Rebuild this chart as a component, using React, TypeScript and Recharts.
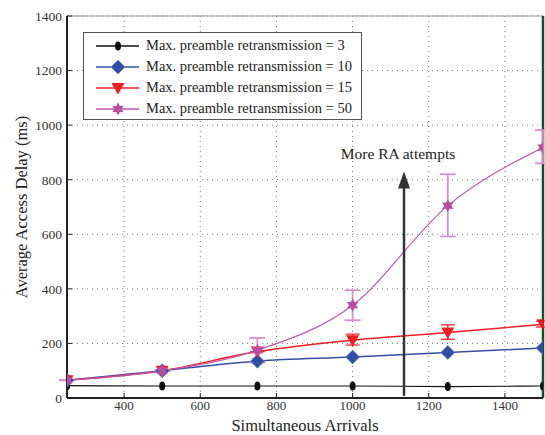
import React from 'react';
import {
  LineChart, Line, XAxis, YAxis, CartesianGrid, ErrorBar, Legend,
  ReferenceLine, ReferenceDot,
} from 'recharts';

const arrivals = [250, 500, 750, 1000, 1250, 1500];
const retx3 = [45, 44, 44, 44, 42, 44];
const retx10 = [65, 100, 135, 150, 167, 183];
const retx15 = [65, 100, 170, 212, 240, 270];
const retx50 = [65, 100, 175, 340, 705, 918];
const err15 = [[0, 0], [0, 0], [0, 0], [18, 22], [25, 28], [10, 12]];
const err50 = [[0, 0], [0, 0], [45, 45], [55, 55], [113, 115], [58, 64]];
const xTicks = [400, 600, 800, 1000, 1200, 1400];
const yTicks = [0, 200, 400, 600, 800, 1000, 1200, 1400];
const seriesNames = [
  'Max. preamble retransmission = 3',
  'Max. preamble retransmission = 10',
  'Max. preamble retransmission = 15',
  'Max. preamble retransmission = 50',
];
const annotation = 'More RA attempts';

const data = arrivals.map((x, i) => ({
  x,
  r3: retx3[i],
  r10: retx10[i],
  r15: retx15[i],
  r50: retx50[i],
  e15: err15[i],
  e50: err50[i],
}));

const FONT = '"Liberation Serif", "Times New Roman", serif';
const C3 = '#111111';
const C10 = '#3350a6';
const C15 = '#ee1c24';
const C50 = '#c056ae';

const Ellipse = ({ cx, cy }: any) => <ellipse cx={cx} cy={cy} rx={3} ry={4.5} fill={C3} />;
const Diamond = ({ cx, cy }: any) => (
  <polygon points={`${cx},${cy - 7} ${cx + 7},${cy} ${cx},${cy + 7} ${cx - 7},${cy}`} fill="#2f4ea5" stroke="#6d86cc" strokeWidth={0.8} />
);
const TriDown = ({ cx, cy }: any) => (
  <polygon points={`${cx - 6.5},${cy - 5} ${cx + 6.5},${cy - 5} ${cx},${cy + 6.5}`} fill={C15} />
);
const Star = ({ cx, cy }: any) => {
  const pts: string[] = [];
  for (let k = 0; k < 12; k++) {
    const r = k % 2 === 0 ? 6.5 : 3.6;
    const a = (Math.PI / 6) * k - Math.PI / 2;
    pts.push(`${cx + r * Math.cos(a)},${cy + r * Math.sin(a)}`);
  }
  return <polygon points={pts.join(' ')} fill="#b64ea3" />;
};

const markers = [Ellipse, Diamond, TriDown, Star];
const colors = [C3, C10, C15, C50];

const LegendBox = () => (
  <div
    style={{
      border: '1px solid #555',
      background: '#fff',
      width: 279,
      height: 88,
      boxSizing: 'border-box',
      paddingTop: 2,
      fontFamily: FONT,
      fontSize: 14.5,
      color: '#222',
    }}
  >
    {seriesNames.map((name, i) => {
      const M = markers[i];
      return (
        <div key={name} style={{ display: 'flex', alignItems: 'center', height: 21 }}>
          <svg width={62} height={20} style={{ display: 'block' }}>
            <line x1={12} x2={55} y1={10} y2={10} stroke={colors[i]} strokeWidth={1.4} />
            <M cx={34} cy={10} />
          </svg>
          <span style={{ whiteSpace: 'nowrap' }}>{name}</span>
        </div>
      );
    })}
  </div>
);

const ArrowHead = ({ cx, cy }: any) => (
  <polygon points={`${cx},${cy} ${cx + 6},${cy + 17} ${cx - 6},${cy + 17}`} fill="#333" />
);
const AnnoText = ({ cx, cy }: any) => (
  <text x={cx - 6} y={cy} textAnchor="middle" dominantBaseline="middle" fontFamily={FONT} fontSize={15.5} fill="#222">
    {annotation}
  </text>
);

const tickStyle = { fontFamily: FONT, fontSize: 13.5, fill: '#333' };

export default function App() {
  return (
    <div style={{ position: 'absolute', left: 0, top: 0, background: '#fff' }}>
      <LineChart width={545} height={435} data={data} margin={{ top: 16, right: 2, bottom: 0, left: 0 }}>
        <CartesianGrid stroke="#777" strokeDasharray="1 4" />
        <XAxis
          dataKey="x"
          type="number"
          domain={[250, 1500]}
          ticks={xTicks}
          allowDataOverflow
          height={37}
          tickSize={-5}
          tickMargin={8}
          tick={{ ...tickStyle, fontSize: 13 }}
          axisLine={{ stroke: '#222', strokeWidth: 2 }}
          tickLine={{ stroke: '#222', strokeWidth: 1 }}
          label={{ value: 'Simultaneous Arrivals', position: 'insideBottom', offset: 4, style: { fontFamily: FONT, fontSize: 16.5, fill: '#222' } }}
        />
        <YAxis
          type="number"
          domain={[0, 1400]}
          ticks={yTicks}
          width={67}
          tickSize={-5}
          tickMargin={10}
          tick={tickStyle}
          axisLine={{ stroke: '#222', strokeWidth: 2 }}
          tickLine={{ stroke: '#222', strokeWidth: 1 }}
          label={({ viewBox }: any) => (
            <text
              x={23}
              y={viewBox.y + viewBox.height / 2}
              transform={`rotate(-90, 23, ${viewBox.y + viewBox.height / 2})`}
              textAnchor="middle"
              dominantBaseline="middle"
              fontFamily={FONT}
              fontSize={16.5}
              fill="#222"
            >
              Average Access Delay (ms)
            </text>
          )}
        />
        <ReferenceLine y={1400} stroke="#999" strokeWidth={1} />
        <ReferenceLine x={1500} stroke="#1d4a30" strokeWidth={2.5} />
        <Legend
          layout="horizontal"
          verticalAlign="middle"
          align="center"
          content={() => <LegendBox />}
          wrapperStyle={{ position: 'absolute', left: 83, top: 32, width: 'auto', height: 'auto' }}
        />
        <Line
          dataKey="r3"
          type="monotone"
          stroke={C3}
          strokeWidth={1.2}
          isAnimationActive={false}
          dot={(p: any) => <Ellipse key={`d3-${p.index}`} cx={p.cx} cy={p.cy} />}
        />
        <Line
          dataKey="r10"
          type="monotone"
          stroke={C10}
          strokeWidth={1.5}
          isAnimationActive={false}
          dot={(p: any) => <Diamond key={`d10-${p.index}`} cx={p.cx} cy={p.cy} />}
        />
        <Line
          dataKey="r15"
          type="monotone"
          stroke={C15}
          strokeWidth={1.5}
          isAnimationActive={false}
          dot={(p: any) => <TriDown key={`d15-${p.index}`} cx={p.cx} cy={p.cy} />}
        >
          <ErrorBar dataKey="e15" direction="y" width={7} stroke={C15} strokeWidth={1.2} />
        </Line>
        <Line
          dataKey="r50"
          type="monotone"
          stroke={C50}
          strokeWidth={1.2}
          isAnimationActive={false}
          dot={(p: any) => <Star key={`d50-${p.index}`} cx={p.cx} cy={p.cy} />}
        >
          <ErrorBar dataKey="e50" direction="y" width={8} stroke="#d98fca" strokeWidth={1.8} />
        </Line>
        <ReferenceLine
          segment={[{ x: 1135, y: 8 }, { x: 1135, y: 780 }]}
          stroke="#333"
          strokeWidth={2.5}
        />
        <ReferenceDot x={1135} y={830} r={0} shape={(p: any) => <ArrowHead cx={p.cx} cy={p.cy} />} />
        <ReferenceDot x={1135} y={890} r={0} shape={(p: any) => <AnnoText cx={p.cx} cy={p.cy} />} />
      </LineChart>
    </div>
  );
}
